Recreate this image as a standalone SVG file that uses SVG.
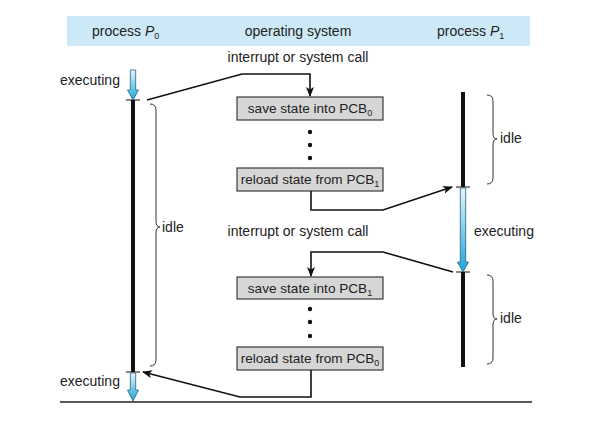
<svg xmlns="http://www.w3.org/2000/svg" width="592" height="439" viewBox="0 0 592 439">
<defs>
<linearGradient id="bl" x1="0" y1="0" x2="0" y2="1">
<stop offset="0" stop-color="#e6f6fc"/>
<stop offset="1" stop-color="#1aa6dc"/>
</linearGradient>
<marker id="ah" markerWidth="10" markerHeight="8" refX="9" refY="4" orient="auto" markerUnits="userSpaceOnUse">
<path d="M0,0 L10,4 L0,8 L2.5,4 Z" fill="#111"/>
</marker>
<style>
text{font-family:"Liberation Sans",Arial,sans-serif;font-size:14px;fill:#222}
.bt{font-size:13.6px}
.box{fill:#d6d6d6;stroke:#3a3a3a;stroke-width:1.2}
.tl{stroke:#111;stroke-width:4}
.tk{stroke:#111;stroke-width:1}
.cn{fill:none;stroke:#111;stroke-width:1.6}
.br{fill:none;stroke:#333;stroke-width:1}
.ba{fill:url(#bl);stroke:#2a5f80;stroke-width:0.8}
</style>
</defs>
<rect x="67" y="16" width="463" height="30" fill="#cde9f7"/>
<text x="92" y="36">process <tspan font-style="italic">P</tspan><tspan font-size="9" dy="3">0</tspan></text>
<text x="298" y="36" text-anchor="middle">operating system</text>
<text x="437" y="36">process <tspan font-style="italic">P</tspan><tspan font-size="9" dy="3">1</tspan></text>
<line x1="60" y1="402" x2="532" y2="402" stroke="#222" stroke-width="1.5"/>

<g id="p0">
<line class="tl" x1="133" y1="100" x2="133" y2="372"/>
<line class="tk" x1="126" y1="100" x2="140" y2="100"/>
<line class="tk" x1="126" y1="372" x2="140" y2="372"/>
<path class="ba" d="M130.3,70 H135.7 V90 H138.5 L133,100 L127.5,90 H130.3 Z"/>
<path class="ba" d="M130.3,373 H135.7 V390 H138.5 L133,401 L127.5,390 H130.3 Z"/>
<text x="60" y="85">executing</text>
<text x="60" y="386">executing</text>
<path class="br" d="M150,104 Q156,104 156,110 V221 Q156,227 160,227 Q156,227 156,233 V360 Q156,366 150,366"/>
<text x="162" y="232">idle</text>
</g>

<g id="p1">
<line class="tl" x1="463" y1="92" x2="463" y2="187"/>
<line class="tl" x1="463" y1="272" x2="463" y2="367"/>
<line class="tk" x1="456" y1="187" x2="470" y2="187"/>
<line class="tk" x1="456" y1="272" x2="470" y2="272"/>
<path class="ba" d="M460.3,188 H465.7 V262 H468.5 L463,272 L457.5,262 H460.3 Z"/>
<text x="474" y="236">executing</text>
<path class="br" d="M487,95 Q493,95 493,101 V133 Q493,139 497,139 Q493,139 493,145 V178 Q493,184 487,184"/>
<text x="500" y="143">idle</text>
<path class="br" d="M487,275 Q493,275 493,281 V313 Q493,319 497,319 Q493,319 493,325 V358 Q493,364 487,364"/>
<text x="500" y="323">idle</text>
</g>

<g id="os">
<text x="298" y="62" text-anchor="middle">interrupt or system call</text>
<text x="298" y="236" text-anchor="middle">interrupt or system call</text>
<g id="b1"><rect class="box" x="237" y="97" width="146" height="23"/>
<text class="bt" x="310" y="113" text-anchor="middle">save state into PCB<tspan font-size="9" dy="3">0</tspan></text></g>
<g id="b2"><rect class="box" x="237" y="168" width="146" height="23"/>
<text class="bt" x="310" y="184" text-anchor="middle">reload state from PCB<tspan font-size="9" dy="3">1</tspan></text></g>
<g id="b3"><rect class="box" x="237" y="277" width="146" height="22"/>
<text class="bt" x="310" y="293" text-anchor="middle">save state into PCB<tspan font-size="9" dy="3">1</tspan></text></g>
<g id="b4"><rect class="box" x="237" y="347" width="146" height="23"/>
<text class="bt" x="310" y="363" text-anchor="middle">reload state from PCB<tspan font-size="9" dy="3">0</tspan></text></g>
<g fill="#111">
<circle cx="310" cy="132" r="2.2"/><circle cx="310" cy="145" r="2.2"/><circle cx="310" cy="158" r="2.2"/>
<circle cx="310" cy="309" r="2.2"/><circle cx="310" cy="322" r="2.2"/><circle cx="310" cy="336" r="2.2"/>
</g>
</g>

<g id="connectors">
<path class="cn" d="M147,100 L242,74 H310 V96" marker-end="url(#ah)"/>
<path class="cn" d="M311,191 V210 H383 L452,187" marker-end="url(#ah)"/>
<path class="cn" d="M453,272 L383,252 H311 V276" marker-end="url(#ah)"/>
<path class="cn" d="M311,370 V397 H240 L143,372" marker-end="url(#ah)"/>
</g>
</svg>
